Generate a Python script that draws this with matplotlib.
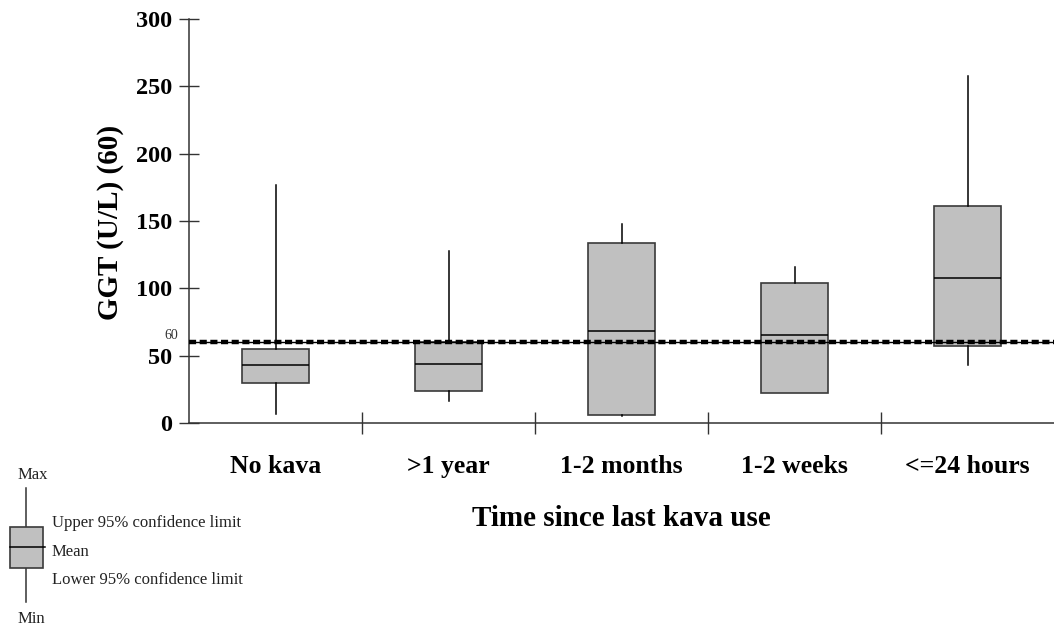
import matplotlib
matplotlib.use("Agg")
import matplotlib.pyplot as plt
from matplotlib.patches import Rectangle

plt.rcParams['font.family'] = ['Liberation Serif', 'DejaVu Serif']

# data
groups = ["No kava", ">1 year", "1-2 months", "1-2 weeks", "<=24 hours"]
maxs = [177, 128, 148, 116, 258]
upper = [55, 60, 134, 104, 161]
means = [43, 44, 68, 65, 108]
lower = [30, 24, 6, 22, 57]
mins = [7, 16, 5, 22, 43]
cutoff = 60

fig = plt.figure(figsize=(10.54, 6.3), dpi=100)
ax = fig.add_axes([189/1054, 1 - 423/630, 1 - 189/1054, (423 - 19)/630])

stats = []
for g, lo, q1, m, q3, hi in zip(groups, mins, lower, means, upper, maxs):
    stats.append(dict(label=g, whislo=lo, q1=q1, med=m, q3=q3, whishi=hi))

pos = list(range(1, len(groups) + 1))
ax.bxp(stats, positions=pos, widths=0.39, showcaps=False, showfliers=False,
       patch_artist=True,
       boxprops=dict(facecolor="#c0c0c0", edgecolor="#3a3a3a", linewidth=1.2),
       medianprops=dict(color="black", linewidth=1.1),
       whiskerprops=dict(color="black", linewidth=1.1))

# reference line at 60
ax.axhline(cutoff, color="black", lw=1.0, zorder=4)
ax.axhline(cutoff, color="black", lw=3.2, linestyle=(0, (1.6, 0.8)), zorder=4)
ax.text(-0.012, cutoff, str(cutoff), transform=ax.get_yaxis_transform(),
        ha="right", va="bottom", fontsize=10, color="#333333")

ax.set_xlim(0.5, len(groups) + 0.5)
ax.set_ylim(0, 300)
ax.spines["top"].set_visible(False)
ax.spines["right"].set_visible(False)
ax.spines["left"].set_linewidth(1.1)
ax.spines["bottom"].set_linewidth(1.1)
ax.spines["left"].set_color("#333333")
ax.spines["bottom"].set_color("#333333")

ax.set_yticks(range(0, 301, 50))
ax.tick_params(axis="y", direction="inout", length=14, width=1.0,
               labelsize=17.5, pad=5, colors="#333333", labelcolor="black")
for t in ax.get_yticklabels():
    t.set_fontweight("bold")

ax.set_xticks([p + 0.5 for p in pos[:-1]])
ax.set_xticklabels([])
ax.tick_params(axis="x", which="major", direction="inout", length=16, width=1.0,
               colors="#333333")
ax.set_xticks(pos, minor=True)
ax.set_xticklabels(groups, minor=True, fontsize=18.5, fontweight="bold")
ax.tick_params(axis="x", which="minor", length=0, pad=23)

fig.text(110/1054, 1 - 222/630, "GGT (U/L) (60)", rotation=90, ha="center",
         va="center", fontsize=21, fontweight="bold")
fig.text(621/1054, 1 - 519/630, "Time since last kava use", ha="center",
         va="center", fontsize=21, fontweight="bold")

# legend glyph
lg = fig.add_axes([0, 0, 280/1054, 170/630])
lg.set_xlim(0, 280)
lg.set_ylim(630, 460)
lg.axis("off")
lg.plot([26, 26], [488, 602], color="#333333", lw=1.1)
lg.add_patch(Rectangle((10, 527), 33, 41, facecolor="#c0c0c0",
                       edgecolor="#3a3a3a", lw=1.2, zorder=3))
lg.plot([10, 45], [547, 547], color="black", lw=1.1, zorder=4)
lg.text(18, 475, "Max", fontsize=12, ha="left", va="center", color="#222222")
lg.text(18, 619, "Min", fontsize=12, ha="left", va="center", color="#222222")
lg.text(52, 523, "Upper 95% confidence limit", fontsize=12, va="center", color="#222222")
lg.text(52, 552, "Mean", fontsize=12, va="center", color="#222222")
lg.text(52, 580, "Lower 95% confidence limit", fontsize=12, va="center", color="#222222")

fig.savefig("out.png", dpi=100)
